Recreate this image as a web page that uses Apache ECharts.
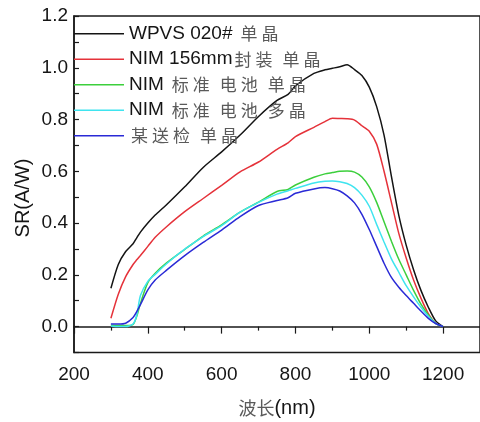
<!DOCTYPE html>
<html>
<head>
<meta charset="utf-8">
<script src="https://cdn.jsdelivr.net/npm/echarts@6/dist/echarts.min.js"></script>
<style>
html,body{margin:0;padding:0;background:#fff;}
#chart{width:480px;height:422px;}
</style>
</head>
<body>
<div id="chart"></div>
<script>
// Wavelength (nm)
const wavelengths = [300,320,340,360,370,380,400,420,450,500,550,600,650,700,750,780,800,850,880,900,920,940,960,980,1000,1020,1040,1060,1080,1100,1120,1140,1160,1180,1200];
// Spectral response SR (A/W)
const wpvsMono = [0.148,0.240,0.290,0.320,0.343,0.365,0.400,0.431,0.470,0.540,0.615,0.675,0.740,0.812,0.874,0.897,0.930,0.978,0.992,0.998,1.004,1.012,0.993,0.970,0.925,0.850,0.740,0.580,0.430,0.315,0.220,0.140,0.075,0.022,0.000];
const nim156Mono = [0.032,0.125,0.193,0.240,0.258,0.275,0.310,0.345,0.385,0.444,0.495,0.546,0.598,0.636,0.685,0.710,0.734,0.770,0.792,0.805,0.804,0.803,0.798,0.776,0.755,0.705,0.600,0.480,0.360,0.265,0.180,0.110,0.050,0.012,0.000];
const nimStdMono = [0.005,0.004,0.004,0.008,0.040,0.090,0.170,0.206,0.245,0.298,0.350,0.393,0.442,0.481,0.522,0.530,0.547,0.577,0.590,0.595,0.600,0.601,0.597,0.578,0.540,0.480,0.405,0.330,0.260,0.200,0.140,0.087,0.045,0.012,0.000];
const nimStdMulti = [0.002,0.000,0.000,0.010,0.045,0.120,0.175,0.202,0.242,0.299,0.348,0.390,0.442,0.480,0.512,0.525,0.534,0.555,0.562,0.563,0.560,0.553,0.537,0.508,0.465,0.395,0.327,0.262,0.210,0.158,0.115,0.075,0.040,0.012,0.000];
const sampleMono = [0.010,0.010,0.013,0.035,0.058,0.085,0.142,0.180,0.217,0.274,0.325,0.373,0.425,0.468,0.487,0.498,0.515,0.532,0.537,0.533,0.524,0.505,0.478,0.434,0.375,0.310,0.245,0.190,0.152,0.120,0.090,0.060,0.032,0.012,0.000];

const seriesNames = ['WPVS 020# 单晶','NIM 156mm封装 单晶','NIM 标准 电池 单晶','NIM 标准 电池 多晶','某送检 单晶'];
const seriesValues = [wpvsMono, nim156Mono, nimStdMono, nimStdMulti, sampleMono];
const seriesColors = ['#141414','#e5323a','#3ccf3c','#3fe4ef','#2a2ad6'];

const xTitle = '波长(nm)';
const yTitle = 'SR(A/W)';

const LATIN = "'Liberation Sans', Arial, sans-serif";
const CJK = "'Noto Sans CJK SC', sans-serif";

function isCJK(ch){ return /[\u3000-\u9fff]/.test(ch); }
function toRich(str){
  const chars = Array.from(str);
  let out = '';
  let run = '';
  const flush = () => { if (run) { out += '{l|' + run + '}'; run = ''; } };
  chars.forEach((ch, i) => {
    if (isCJK(ch)) { flush(); out += '{c|' + ch + '}'; }
    else if (ch === ' ' && (isCJK(chars[i - 1] || '') || isCJK(chars[i + 1] || ''))) { flush(); out += '{s| }'; }
    else run += ch;
  });
  flush();
  return out;
}

const richStyles = {
  l: {fontFamily: LATIN, fontSize: 19, color: '#151515', lineHeight: 22},
  c: {fontFamily: CJK, fontSize: 17, color: '#5a5a5a', width: 21, align: 'center', lineHeight: 22},
  s: {fontFamily: LATIN, fontSize: 19, width: 6, lineHeight: 22}
};

const chart = echarts.init(document.getElementById('chart'), null, {renderer: 'canvas'});
const option = {
  animation: false,
  backgroundColor: '#fff',
  grid: {left: 74, top: 16, right: -7.6, bottom: 69.5, show: true, borderColor: '#1a1a1a', borderWidth: 1.5, backgroundColor: 'transparent'},
  legend: {
    orient: 'vertical', left: 74, top: 22.7, padding: 0,
    icon: 'rect', itemWidth: 50, itemHeight: 1.5, itemGap: 3.5,
    selectedMode: false,
    data: seriesNames,
    formatter: name => toRich(name),
    textStyle: {rich: richStyles, lineHeight: 22}
  },
  xAxis: {
    type: 'value', min: 200, max: 1300, interval: 200,
    axisLine: {show: true, lineStyle: {color: '#1a1a1a', width: 1.5}},
    axisTick: {show: true, inside: false, length: 7, lineStyle: {color: '#1a1a1a', width: 1.2}},
    minorTick: {show: true, splitNumber: 2, length: 4, lineStyle: {color: '#1a1a1a', width: 1.2}},
    splitLine: {show: false},
    axisLabel: {showMaxLabel: false, margin: 13, fontFamily: LATIN, fontSize: 19, color: '#151515',
      formatter: v => (v % 200 === 0 && v <= 1200) ? String(v) : ''}
  },
  yAxis: {
    type: 'value', min: -0.1, max: 1.2, interval: 0.1,
    axisLine: {show: true, lineStyle: {color: '#1a1a1a', width: 1.5}},
    axisTick: {show: true, inside: true, length: 5, lineStyle: {color: '#1a1a1a', width: 1.2}},
    splitLine: {show: false},
    axisLabel: {margin: 6, fontFamily: LATIN, fontSize: 19, color: '#151515',
      formatter: v => { const k = Math.round(v * 10); return (k >= 0 && k % 2 === 0) ? (k / 10).toFixed(1) : ''; }}
  },
  graphic: [
    {type: 'text', x: 23, y: 198, rotation: Math.PI / 2,
     style: {text: yTitle, font: '20px ' + LATIN, fill: '#151515', align: 'center', verticalAlign: 'middle'}},
    {type: 'text', x: 277, y: 408,
     style: {text: toRich(xTitle), align: 'center', verticalAlign: 'middle',
       rich: {
         l: {fontFamily: LATIN, fontSize: 20, fill: '#151515', color: '#151515'},
         c: {fontFamily: CJK, fontSize: 18, fill: '#5a5a5a', color: '#5a5a5a', width: 18, align: 'center'},
         s: {width: 6}
       }}}
  ],
  series: seriesNames.map((name, i) => ({
    name: name,
    type: 'line',
    symbol: 'none',
    smooth: 0.25,
    color: seriesColors[i],
    lineStyle: {color: seriesColors[i], width: 1.5},
    data: wavelengths.map((w, j) => [w, seriesValues[i][j]])
  }))
};
chart.setOption(option);
</script>
</body>
</html>
